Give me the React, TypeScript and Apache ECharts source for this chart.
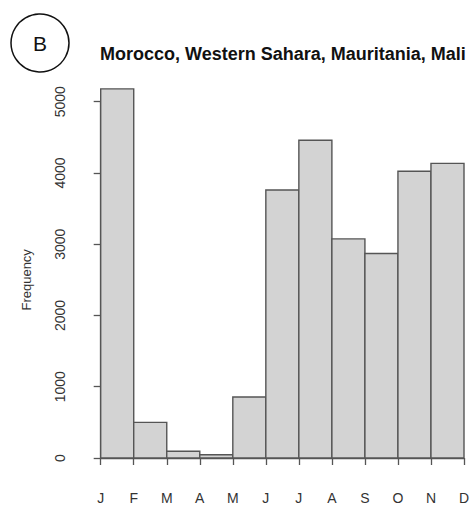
import React, { useEffect, useRef } from "react";
import * as echarts from "echarts";

const tickLabels = ["J", "F", "M", "A", "M", "J", "J", "A", "S", "O", "N", "D"];
const frequencies = [5180, 500, 95, 45, 855, 3760, 4460, 3075, 2870, 4025, 4135];
const yTicks = { min: 0, max: 5000, interval: 1000 };
const titleText = "Morocco, Western Sahara, Mauritania, Mali";
const panelLetter = "B";

export default function App() {
  const ref = useRef<HTMLDivElement>(null);
  useEffect(() => {
    if (!ref.current) return;
    const chart = echarts.init(ref.current, null, { renderer: "svg" });
    const font = "'Liberation Sans', Arial, sans-serif";
    const data = frequencies.map((v, i) => [i, v]);
    chart.setOption({
      animation: false,
      backgroundColor: "#ffffff",
      title: {
        text: titleText,
        left: 95,
        top: 40,
        textStyle: { fontFamily: font, fontSize: 18, fontWeight: "bold", color: "#111" },
      },
      graphic: [
        {
          type: "circle",
          shape: { cx: 40, cy: 43, r: 29 },
          style: { fill: "none", stroke: "#111", lineWidth: 1.5 },
        },
        {
          type: "text",
          x: 40,
          y: 43,
          style: {
            text: panelLetter,
            fontFamily: font,
            fontSize: 21,
            fill: "#111",
            align: "center",
            verticalAlign: "middle",
          },
        },
      ],
      grid: { left: 100.7, right: 10, top: 101.7, bottom: 48 },
      xAxis: {
        type: "value",
        min: 0,
        max: tickLabels.length - 1,
        interval: 1,
        offset: 14,
        splitLine: { show: false },
        axisLine: { show: true, lineStyle: { color: "#555", width: 1.3 } },
        axisTick: { show: true, length: 7, lineStyle: { color: "#555", width: 1.3 } },
        axisLabel: {
          formatter: (v: number) => tickLabels[Math.round(v)] ?? "",
          margin: 19,
          fontFamily: font,
          fontSize: 14,
          color: "#333",
          showMinLabel: true,
          showMaxLabel: true,
        },
      },
      yAxis: {
        type: "value",
        min: yTicks.min,
        max: yTicks.max,
        interval: yTicks.interval,
        offset: 15.7,
        name: "Frequency",
        nameLocation: "middle",
        nameGap: 52,
        nameRotate: 90,
        nameTextStyle: { fontFamily: font, fontSize: 13, color: "#333" },
        splitLine: { show: false },
        axisLine: { show: true, lineStyle: { color: "#555", width: 1.3 } },
        axisTick: { show: true, length: 7, lineStyle: { color: "#555", width: 1.3 } },
        axisLabel: {
          rotate: 90,
          margin: 18,
          formatter: (v: number) => String(v),
          fontFamily: font,
          fontSize: 14,
          color: "#333",
        },
      },
      series: [
        {
          type: "custom",
          clip: false,
          data,
          encode: { x: 0, y: 1 },
          renderItem: (params: any, api: any) => {
            const i = api.value(0);
            const v = api.value(1);
            const p0 = api.coord([i, 0]);
            const p1 = api.coord([i + 1, v]);
            return {
              type: "rect",
              shape: { x: p0[0], y: p1[1], width: p1[0] - p0[0], height: p0[1] - p1[1] },
              style: { fill: "#d3d3d3", stroke: "#555", lineWidth: 1.4 },
            };
          },
        },
      ],
    });
    return () => chart.dispose();
  }, []);
  return (
    <div
      ref={ref}
      style={{ position: "fixed", left: 0, top: 0, width: 474, height: 506 }}
    />
  );
}
